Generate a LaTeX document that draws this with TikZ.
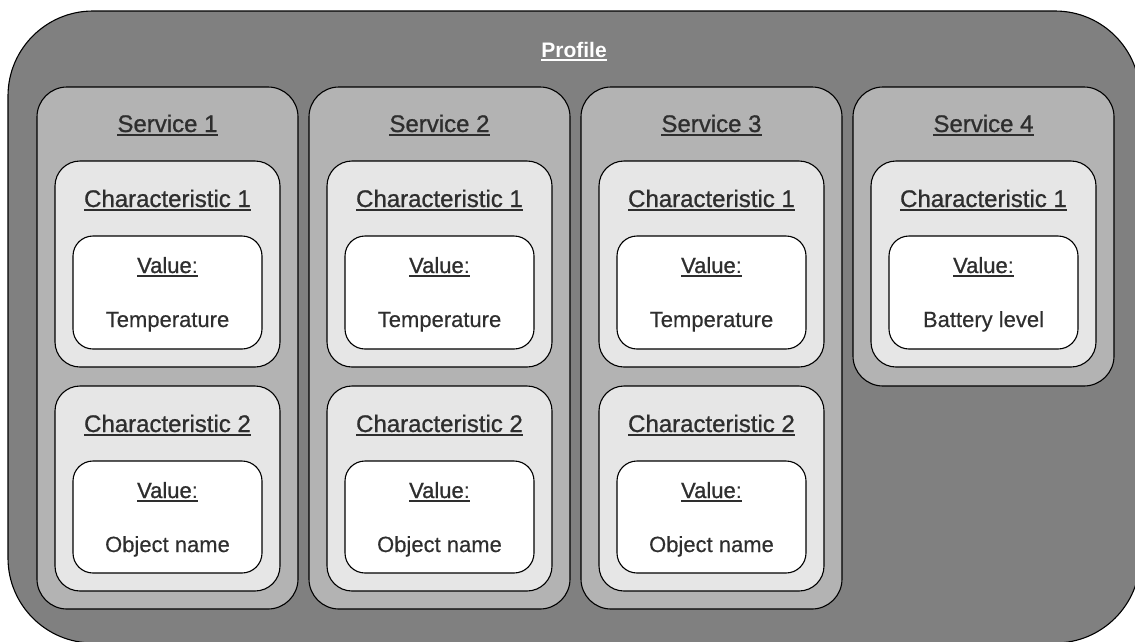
\documentclass[tikz,border=0pt]{standalone}
\usepackage{fontspec}
\setmainfont{Liberation Sans}
% slightly emboldened faces for headings and value texts
\newfontfamily\headfont{Liberation Sans}[FakeBold=0.9]
\newfontfamily\bodyfont{Liberation Sans}[FakeBold=0.3]

\definecolor{profilegray}{HTML}{808080}
\definecolor{servicegray}{HTML}{B3B3B3}
\definecolor{chargray}{HTML}{E6E6E6}
\definecolor{textdark}{HTML}{2E2E2E}

% underline drawn as a rule in the current text colour
\newcommand\ulbox[1]{\setbox0\hbox{#1}\rlap{\rule[-3.6pt]{\wd0}{1.4pt}}\box0}

\tikzset{
  profilebox/.style={draw=black, line width=1.1pt, fill=profilegray, rounded corners=85pt},
  servicebox/.style={draw=black, line width=1.1pt, fill=servicegray, rounded corners=30pt},
  charbox/.style={draw=black, line width=1.1pt, fill=chargray, rounded corners=25pt},
  valuebox/.style={draw=black, line width=1.1pt, fill=white, rounded corners=20pt},
  heading/.style={anchor=base, inner sep=0pt, text=textdark,
    font=\headfont\fontsize{24}{28}\selectfont},
  valuehead/.style={anchor=base, inner sep=0pt, text=textdark,
    font=\fontsize{22}{26}\selectfont},
  valuetext/.style={anchor=base, inner sep=0pt, text=textdark,
    font=\bodyfont\fontsize{22}{26}\selectfont},
  profiletitle/.style={anchor=base, inner sep=0pt, text=white,
    font=\fontsize{21}{25}\selectfont\bfseries},
}

\newcommand\valuelabel{\ulbox{{\headfont Value}:}}

\begin{document}
\begin{tikzpicture}[x=1pt, y=-1pt]
  \useasboundingbox (0,0) rectangle (1135,641);
  \clip (0,0) rectangle (1135,641);

  % profile container
  \draw[profilebox] (8,11) rectangle (1140,643);
  \node[profiletitle] (profile) at (574,57) {\ulbox{Profile}};

  % services with two characteristics
  \foreach \i/\x/\va/\vb in {1/37/Temperature/Object name,
                             2/309/Temperature/Object name,
                             3/581/Temperature/Object name} {
    \draw[servicebox] (\x,87) rectangle ++(261,522);
    \node[heading] (s\i) at (\x+130.5,132) {\ulbox{Service \i}};

    \draw[charbox] (\x+18,161) rectangle ++(225,206);
    \node[heading] (s\i c1) at (\x+130.5,207) {\ulbox{Characteristic 1}};
    \draw[valuebox] (\x+36,236) rectangle ++(189,113);
    \node[valuehead] (s\i v1) at (\x+130.5,273) {\valuelabel};
    \node[valuetext] (s\i t1) at (\x+130.5,327) {\va};

    \draw[charbox] (\x+18,386) rectangle ++(225,205);
    \node[heading] (s\i c2) at (\x+130.5,432) {\ulbox{Characteristic 2}};
    \draw[valuebox] (\x+36,461) rectangle ++(189,112);
    \node[valuehead] (s\i v2) at (\x+130.5,498) {\valuelabel};
    \node[valuetext] (s\i t2) at (\x+130.5,552) {\vb};
  }

  % service with a single characteristic
  \draw[servicebox] (853,87) rectangle ++(261,299);
  \node[heading] (s4) at (983.5,132) {\ulbox{Service 4}};
  \draw[charbox] (871,161) rectangle ++(225,206);
  \node[heading] (s4c1) at (983.5,207) {\ulbox{Characteristic 1}};
  \draw[valuebox] (889,236) rectangle ++(189,113);
  \node[valuehead] (s4v1) at (983.5,273) {\valuelabel};
  \node[valuetext] (s4t1) at (983.5,327) {Battery level};
\end{tikzpicture}
\end{document}
